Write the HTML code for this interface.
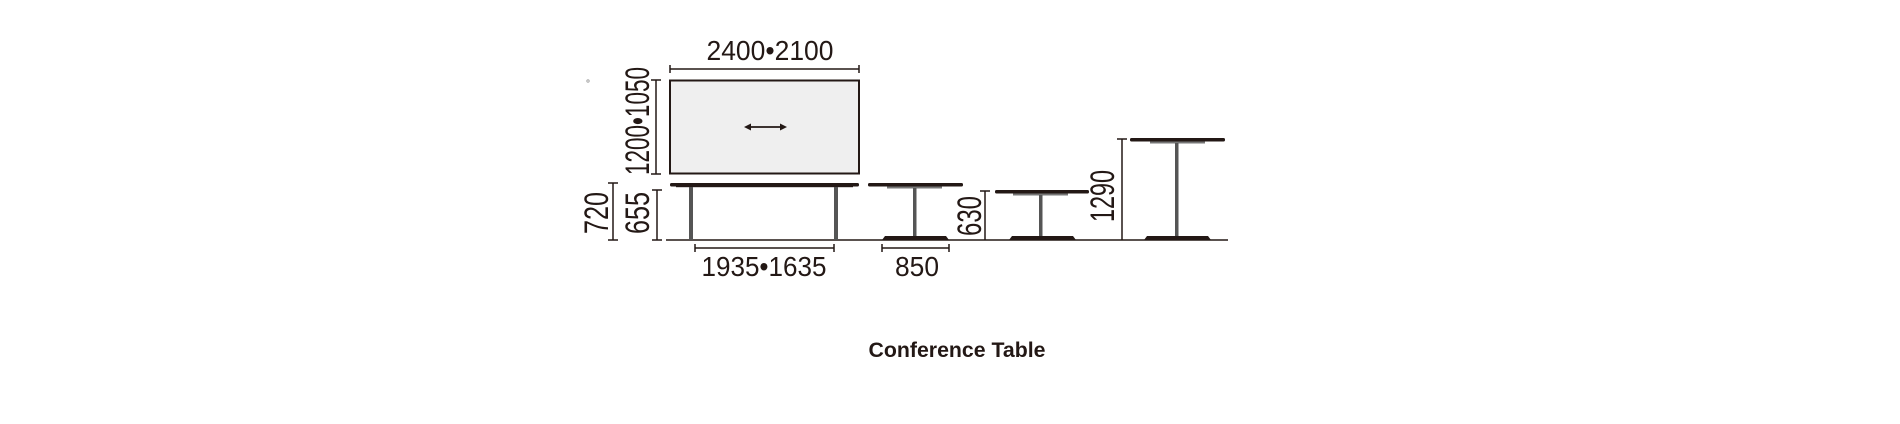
<!DOCTYPE html>
<html><head><meta charset="utf-8"><style>
html,body{margin:0;padding:0;background:#fff;}
svg{display:block}
</style></head><body>
<svg width="1900" height="424" viewBox="0 0 1900 424" xmlns="http://www.w3.org/2000/svg" font-family="Liberation Sans, sans-serif">
<g stroke="#231815" fill="none" stroke-width="1.5">
<line x1="670" y1="69" x2="859" y2="69"/><line x1="670" y1="65" x2="670" y2="73"/><line x1="859" y1="65" x2="859" y2="73"/>
<line x1="656" y1="80" x2="656" y2="174"/><line x1="651" y1="80" x2="661" y2="80"/><line x1="651" y1="174" x2="661" y2="174"/>
<line x1="613" y1="183" x2="613" y2="240"/><line x1="608" y1="183" x2="618" y2="183"/><line x1="608" y1="240" x2="618" y2="240"/>
<line x1="657" y1="190" x2="657" y2="240"/><line x1="652" y1="190" x2="662" y2="190"/><line x1="652" y1="240" x2="662" y2="240"/>
<line x1="695" y1="248" x2="834" y2="248"/><line x1="695" y1="244" x2="695" y2="252"/><line x1="834" y1="244" x2="834" y2="252"/>
<line x1="882" y1="248" x2="949" y2="248"/><line x1="882" y1="244" x2="882" y2="252"/><line x1="949" y1="244" x2="949" y2="252"/>
<line x1="985" y1="191" x2="985" y2="240"/><line x1="980" y1="191" x2="990" y2="191"/>
<line x1="1122" y1="139" x2="1122" y2="240"/><line x1="1117" y1="139" x2="1127" y2="139"/>
<line x1="666" y1="240" x2="1228" y2="240"/>
</g>
<rect x="670" y="80.5" width="189" height="93" fill="#efefef" stroke="#231815" stroke-width="2"/>
<line x1="749" y1="127" x2="782" y2="127" stroke="#231815" stroke-width="1.8"/>
<path d="M744 127 l7 -3.5 v7z M787 127 l-7 -3.5 v7z" fill="#231815"/>
<circle cx="588" cy="81" r="1.2" fill="none" stroke="#999" stroke-width="0.8"/>
<g fill="#231815">
<rect x="670" y="183" width="189" height="3.5" rx="1.5"/>
<rect x="676" y="186" width="177" height="1.2"/>
<rect x="689" y="187" width="4" height="53" fill="#555"/><rect x="834" y="187" width="4" height="53" fill="#555"/>
<rect x="868" y="183" width="95" height="3.5" rx="1.5"/>
<rect x="887" y="186.5" width="55" height="2" fill="#777"/>
<rect x="913" y="188" width="3.5" height="48" fill="#555"/>
<path d="M882 240 L885 236 H946 L949 240 Z"/>
<rect x="995" y="190" width="94" height="3.5" rx="1.5"/>
<rect x="1013" y="193.5" width="55" height="2" fill="#777"/>
<rect x="1039" y="195" width="3.5" height="41" fill="#555"/>
<path d="M1009 240 L1012 236 H1073 L1076 240 Z"/>
<rect x="1130" y="138" width="95" height="3.5" rx="1.5"/>
<rect x="1150" y="141.5" width="55" height="2" fill="#777"/>
<rect x="1175" y="143" width="3.5" height="93" fill="#555"/>
<path d="M1144 240 L1147 236 H1208 L1211 240 Z"/>
</g>
<g fill="#231815" font-size="28">
<text x="770" y="60" text-anchor="middle" textLength="127" lengthAdjust="spacingAndGlyphs">2400•2100</text>
<text x="764" y="276" text-anchor="middle" textLength="125" lengthAdjust="spacingAndGlyphs">1935•1635</text>
<text x="917" y="276" text-anchor="middle" textLength="44" lengthAdjust="spacingAndGlyphs">850</text>
</g>
<g fill="#231815" font-size="34">
<text transform="translate(649,121) rotate(-90)" text-anchor="middle" textLength="108" lengthAdjust="spacingAndGlyphs">1200•1050</text>
<text transform="translate(608,213) rotate(-90)" text-anchor="middle" textLength="42" lengthAdjust="spacingAndGlyphs">720</text>
<text transform="translate(649,213) rotate(-90)" text-anchor="middle" textLength="42" lengthAdjust="spacingAndGlyphs">655</text>
<text transform="translate(981,216) rotate(-90)" text-anchor="middle" textLength="40" lengthAdjust="spacingAndGlyphs">630</text>
<text transform="translate(1114,196) rotate(-90)" text-anchor="middle" textLength="52" lengthAdjust="spacingAndGlyphs">1290</text>
</g>
<text x="957" y="357" text-anchor="middle" font-size="21" font-weight="bold" fill="#231815" textLength="177" lengthAdjust="spacingAndGlyphs">Conference Table</text>
</svg>
</body></html>
